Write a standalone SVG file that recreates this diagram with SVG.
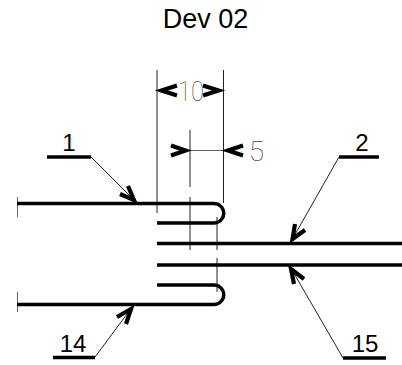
<svg xmlns="http://www.w3.org/2000/svg" width="402" height="365" viewBox="0 0 402 365">
<style>
.bar{fill:none;stroke:#000;stroke-width:3.4}
.thin{fill:none;stroke:#222;stroke-width:1}
.dim{fill:none;stroke:#666;stroke-width:1}
.head{fill:none;stroke:#000;stroke-width:4.2;stroke-linejoin:miter;stroke-miterlimit:6}
.label{font-family:"Liberation Sans",Arial,sans-serif;font-size:24px;fill:#000;text-anchor:middle}
.dimt{font-family:Roboto,"Liberation Sans",sans-serif;font-weight:100;font-size:28px;fill:#444;text-anchor:middle}
</style>
<text id="title" x="205.500" y="28" font-family="Liberation Sans, Arial, sans-serif" font-size="27" text-anchor="middle" fill="#000">Dev 02</text>
<g id="connectors">
<path class="thin" d="M157 70V213M223.500 70V203M190 130V187M190 197V250M217 217V250M217 258V292"/>
<path class="dim" d="M17.500 197V217M17.500 292V312M190 150.500H223"/>
<path class="thin" d="M91 157L133 199M95 357L130 310M339 157L293 238M343 358L292 270"/>
</g>
<g id="bar-1"><path class="bar" d="M17 203.500H214A9.750 9.750 0 0 1 214 223H157"/></g>
<g id="bar-14"><path class="bar" d="M17 304.500H214A9.750 9.750 0 0 0 214 285H157"/></g>
<g id="bar-2"><path class="bar" d="M157 243.500H402"/></g>
<g id="bar-15"><path class="bar" d="M157 265H402"/></g>
<g id="dim-10">
<path class="head" d="M177 85.500L161.500 90.500L177 95.500"/>
<path class="head" d="M203 85.500L218.500 90.500L203 95.500"/>
<text class="dimt" x="191" y="101" textLength="26" lengthAdjust="spacingAndGlyphs">10</text>
</g>
<g id="dim-5">
<path class="head" d="M171 145.500L185.500 150.500L171 155.500"/>
<path class="head" d="M243 145.500L228 150.500L243 155.500"/>
<text class="dimt" x="256.500" y="161">5</text>
</g>
<g id="leader-1">
<path class="bar" d="M47 157H91"/>
<path class="head" d="M120 194L134 200L128 186"/>
<text class="label" x="69" y="151">1</text>
</g>
<g id="leader-2">
<path class="bar" d="M339 157H379"/>
<path class="head" d="M295 224L292.500 239L305 230"/>
<text class="label" x="362" y="151">2</text>
</g>
<g id="leader-14">
<path class="bar" d="M53 357.500H95"/>
<path class="head" d="M117 317L131 309L126 324"/>
<text class="label" x="73" y="352">14</text>
</g>
<g id="leader-15">
<path class="bar" d="M343 358H386"/>
<path class="head" d="M294 284L291 269L304 279"/>
<text class="label" x="365" y="352">15</text>
</g>
</svg>
